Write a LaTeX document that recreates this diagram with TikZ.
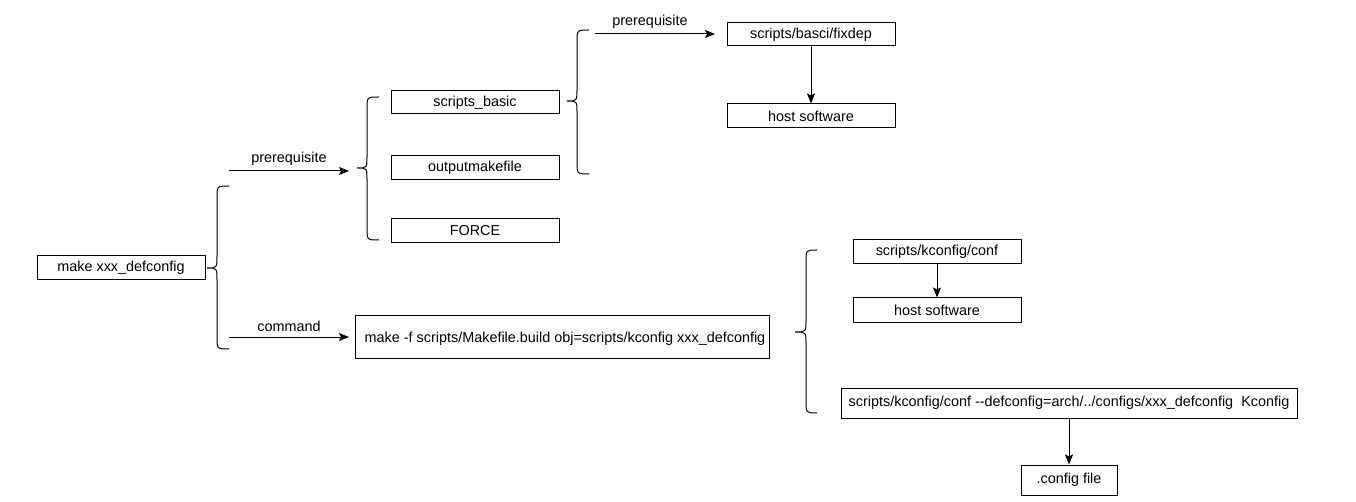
\documentclass[tikz,border=0pt]{standalone}
\usepackage{fontspec}
\setmainfont{Liberation Sans}
\usetikzlibrary{arrows.meta}
\tikzset{
  box/.style={draw, line width=1pt, inner sep=0pt, font=\fontsize{14.4}{16}\selectfont},
  lbl/.style={font=\fontsize{14.4}{16}\selectfont, inner sep=0pt},
  arr/.style={line width=1pt, -{Stealth[length=10pt,width=8pt,inset=2pt]}},
  brace/.style={line width=1pt}
}
\begin{document}
\begin{tikzpicture}[x=1pt,y=-1pt]
\useasboundingbox (0,0) rectangle (1356,502);
% boxes
\node[box, minimum width=168pt, minimum height=24pt] (make) at (121,268) {make xxx\_defconfig};
\node[box, minimum width=168pt, minimum height=23pt] (sb) at (475,102.5) {scripts\_basic};
\node[box, minimum width=168pt, minimum height=24pt] (om) at (475,168) {outputmakefile};
\node[box, minimum width=168pt, minimum height=24pt] (force) at (475,231) {FORCE};
\node[box, minimum width=168pt, minimum height=23pt] (fixdep) at (811,34.5) {scripts/basci/fixdep};
\node[box, minimum width=168pt, minimum height=24pt] (host1) at (811,116) {host software};
\node[box, minimum width=414pt, minimum height=42pt] (mf) at (562,337) {};
\node[lbl] (mft) at (565,339) {make -f scripts/Makefile.build obj=scripts/kconfig xxx\_defconfig};
\node[box, minimum width=168pt, minimum height=24pt] (kconf) at (937,252) {scripts/kconfig/conf};
\node[box, minimum width=168pt, minimum height=24pt] (host2) at (937,310) {host software};
\node[box, minimum width=456pt, minimum height=30pt] (defc) at (1069,403) {scripts/kconfig/conf -{}-defconfig=arch/../configs/xxx\_defconfig\ \ Kconfig};
\node[box, minimum width=96pt, minimum height=30pt] (cfg) at (1069,480) {.config file};
% braces
\draw[brace] (229,186) .. controls (217,186) .. (217,198) -- (217,256) .. controls (217,268) .. (207,268)
  .. controls (217,268) .. (217,280) -- (217,337) .. controls (217,349) .. (229,349);
\draw[brace] (379,97) .. controls (367,97) .. (367,109) -- (367,156) .. controls (367,168) .. (357,168)
  .. controls (367,168) .. (367,180) -- (367,228) .. controls (367,240) .. (379,240);
\draw[brace] (589,30) .. controls (577,30) .. (577,42) -- (577,89) .. controls (577,101) .. (567,101)
  .. controls (577,101) .. (577,113) -- (577,162) .. controls (577,174) .. (589,174);
\draw[brace] (817,250) .. controls (806,250) .. (806,262) -- (806,320) .. controls (806,332) .. (795,332)
  .. controls (806,332) .. (806,344) -- (806,401) .. controls (806,413) .. (817,413);
% arrow endpoints
\coordinate (p1s) at (229,171); \coordinate (p1e) at (349,171);
\coordinate (c1s) at (229,337); \coordinate (c1e) at (349,337);
\coordinate (p2s) at (595,34); \coordinate (p2e) at (715,34);
\draw[arr] (p1s) -- node[lbl, above=5pt] (lp1) {prerequisite} (p1e);
\draw[arr] (c1s) -- node[lbl, above=5pt] (lc1) {command} (c1e);
\draw[arr] (p2s) -- node[lbl, above=5pt, xshift=-5pt] (lp2) {prerequisite} (p2e);
\draw[arr] (fixdep) -- (host1);
\draw[arr] (kconf) -- (host2);
\draw[arr] (defc) -- (cfg);
\end{tikzpicture}
\end{document}
